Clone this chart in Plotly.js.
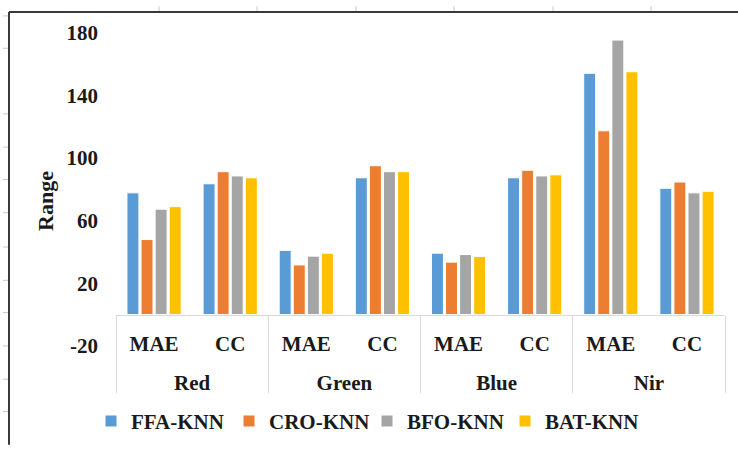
<!DOCTYPE html>
<html>
<head>
<meta charset="utf-8">
<script src="https://cdn.plot.ly/plotly-3.0.1.min.js"></script>
<style>
  html, body { margin: 0; padding: 0; background: #ffffff; }
  #chart { width: 738px; height: 454px; }
</style>
</head>
<body>
<div id="chart"></div>
<script>
// Spectral bands and the two error metrics reported for each band
const bands = ['Red', 'Green', 'Blue', 'Nir'];
const metrics = ['MAE', 'CC'];

// Model names (legend order)
const models = ['FFA-KNN', 'CRO-KNN', 'BFO-KNN', 'BAT-KNN'];

// Values per model, ordered Red MAE, Red CC, Green MAE, Green CC, Blue MAE, Blue CC, Nir MAE, Nir CC
const ffaKnn = [77.7, 83.5, 41.0, 87.3, 39.2, 87.3, 154.0, 80.6];
const croKnn = [47.9, 91.2, 31.7, 95.0, 33.5, 92.1, 117.3, 84.6];
const bfoKnn = [67.3, 88.5, 37.3, 91.2, 38.3, 88.5, 175.2, 77.7];
const batKnn = [68.9, 87.3, 39.2, 91.2, 37.1, 89.2, 155.0, 78.7];

// Y tick labels
const yTicks = [-20, 20, 60, 100, 140, 180];

const seriesValues = [ffaKnn, croKnn, bfoKnn, batKnn];
const colors = ['#5B9BD5', '#ED7D31', '#A5A5A5', '#FFC000'];

// One category per band/metric pair; the metric is shown on the first label row,
// the band on a second row drawn by an overlaid axis
const keys = [];
const innerText = [];
bands.forEach(b => metrics.forEach(m => { keys.push(b + ' ' + m); innerText.push(m); }));
const nCat = keys.length;
const bandCenters = bands.map((b, i) => i * metrics.length + (metrics.length - 1) / 2);

const W = 738, H = 454;
const M = { l: 116, r: 13, t: 12, b: 56 };
const plotW = W - M.l - M.r;
const plotH = H - M.t - M.b;
const yRange = [-48.125, 193.125];
const xRange = [-0.5, nCat - 0.5];
const axisPos = (0 - yRange[0]) / (yRange[1] - yRange[0]);

// pixel -> paper helpers for the decorative frame
const px = x => (x - M.l) / plotW;
const py = y => (H - M.b - y) / plotH;

const serif = '"Liberation Serif", "Times New Roman", Times, serif';
const textFont = { family: serif, size: 21, color: '#1a1a1a', weight: 'bold' };

const traces = models.map((name, i) => ({
  type: 'bar',
  name: name,
  x: keys,
  y: seriesValues[i],
  marker: { color: colors[i], line: { color: '#ffffff', width: 1 } },
  hoverinfo: 'skip'
}));

// invisible trace that carries the overlaid band axis
traces.push({
  type: 'scatter', x: bandCenters, y: bandCenters.map(() => 0), xaxis: 'x2', yaxis: 'y',
  mode: 'markers', marker: { opacity: 0 }, showlegend: false, hoverinfo: 'skip'
});

// frame lines and small ruler ticks along the top and left edges
const shapes = [];
const frameColor = '#3a3a3a';
const rulerColor = '#c8c8c8';
shapes.push({ type: 'line', xref: 'paper', yref: 'paper', x0: px(9), x1: px(738), y0: py(12), y1: py(12),
  line: { color: frameColor, width: 2 } });
shapes.push({ type: 'line', xref: 'paper', yref: 'paper', x0: px(9), x1: px(9), y0: py(12), y1: py(454),
  line: { color: frameColor, width: 2 } });
[159, 257, 356, 454, 553, 651].forEach(x => shapes.push({
  type: 'line', xref: 'paper', yref: 'paper', x0: px(x), x1: px(x), y0: py(6), y1: py(11),
  line: { color: rulerColor, width: 1 } }));
[16, 49, 116, 150, 183, 217, 252, 286, 319, 353, 387, 420].forEach(y => shapes.push({
  type: 'line', xref: 'paper', yref: 'paper', x0: px(3), x1: px(8), y0: py(y), y1: py(y),
  line: { color: rulerColor, width: 1 } }));

const layout = {
  width: W,
  height: H,
  margin: M,
  font: { family: serif },
  paper_bgcolor: '#ffffff',
  plot_bgcolor: 'rgba(0,0,0,0)',
  barmode: 'group',
  bargap: 0.26,
  bargroupgap: 0.15,
  showlegend: true,
  legend: {
    orientation: 'h',
    x: px(91),
    xanchor: 'left',
    y: py(430),
    yanchor: 'middle',
    font: textFont,
    itemwidth: 30,
    entrywidth: 93,
    bgcolor: 'rgba(0,0,0,0)'
  },
  // metric labels
  xaxis: {
    type: 'category',
    range: xRange,
    anchor: 'free',
    position: axisPos,
    tickmode: 'array',
    tickvals: keys,
    ticktext: innerText,
    showline: true,
    linecolor: '#d9d9d9',
    linewidth: 1,
    ticks: '',
    ticklabelstandoff: 10,
    showgrid: false,
    zeroline: false,
    tickfont: textFont,
    fixedrange: true
  },
  // band labels and the dividers between bands
  xaxis2: {
    type: 'linear',
    overlaying: 'x',
    range: xRange,
    anchor: 'free',
    position: axisPos,
    side: 'bottom',
    tickmode: 'array',
    tickvals: bandCenters,
    ticktext: bands,
    ticks: '',
    ticklabelstandoff: 53,
    showline: false,
    showgrid: false,
    zeroline: false,
    tickfont: textFont,
    minor: {
      tickmode: 'linear',
      tick0: -0.5,
      dtick: metrics.length,
      ticks: 'outside',
      ticklen: 77,
      tickwidth: 1,
      tickcolor: '#d9d9d9',
      showgrid: false
    },
    fixedrange: true
  },
  yaxis: {
    range: yRange,
    tickmode: 'array',
    tickvals: yTicks,
    ticktext: yTicks.map(String),
    showgrid: false,
    zeroline: false,
    showline: false,
    ticks: '',
    ticklabelstandoff: 17,
    tickfont: textFont,
    title: { text: 'Range', font: Object.assign({}, textFont, { size: 22 }), standoff: 6 },
    fixedrange: true
  },
  shapes: shapes
};

Plotly.newPlot('chart', traces, layout, { displayModeBar: false, staticPlot: true });
</script>
</body>
</html>
